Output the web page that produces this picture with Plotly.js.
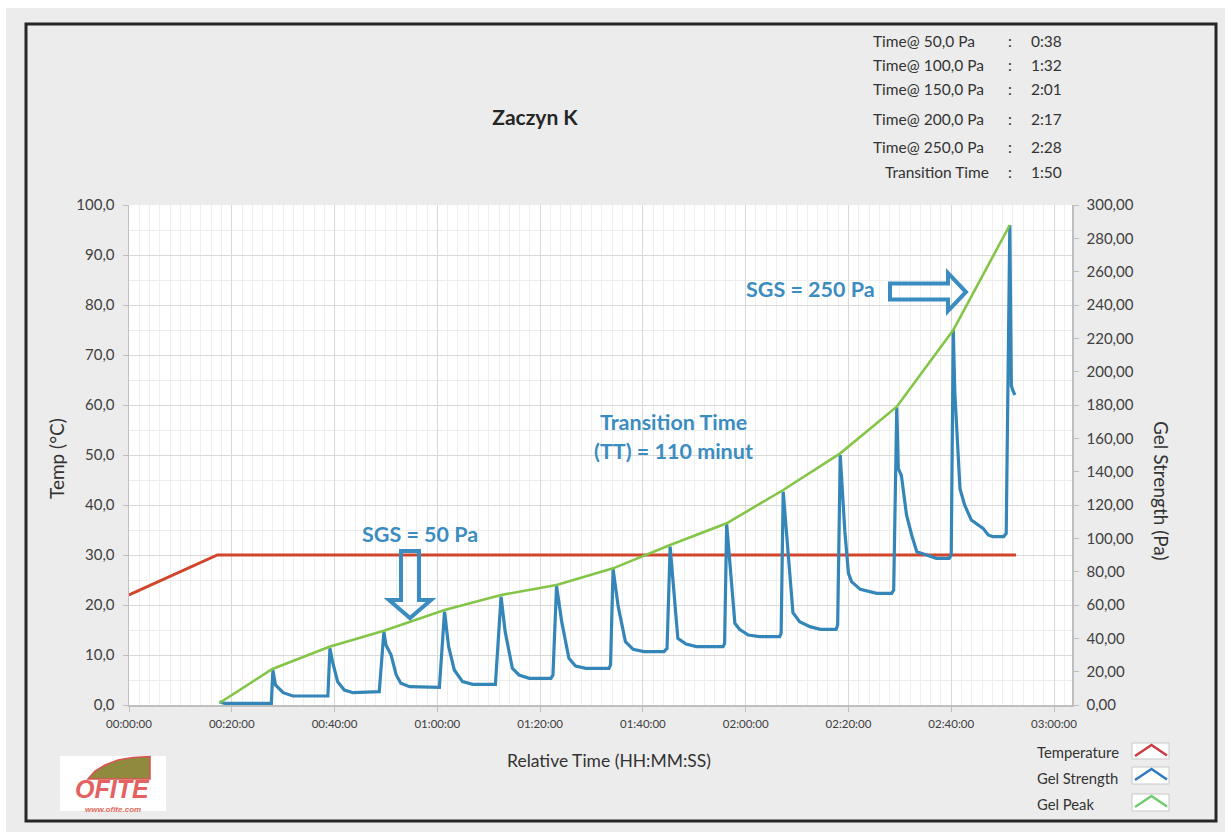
<!DOCTYPE html>
<html>
<head>
<meta charset="utf-8">
<script src="https://cdn.plot.ly/plotly-3.0.1.min.js"></script>
<style>
html,body{margin:0;padding:0;background:#ffffff;}
#chart{width:1225px;height:832px;}
</style>
</head>
<body>
<div id="chart"></div>
<script>
// ---- DATA (minutes since start) ----
const tempTime = [0, 17.2, 172.6];
const tempValue = [22.0, 30.0, 30.0];

const gelTime = [17.6, 18.6, 27.7, 28.0, 28.5, 30.0, 31.9, 38.7, 39.1, 39.6, 40.6, 41.9, 43.6, 48.7,
  49.6, 50.0, 51.0, 52.0, 52.9, 54.6, 60.4, 61.4, 62.2, 63.3, 64.9, 66.9, 71.3,
  72.4, 73.2, 74.6, 75.9, 77.9, 82.1, 82.5, 83.2, 84.2, 85.6, 86.9, 88.9, 93.4, 93.7,
  94.2, 95.2, 96.6, 98.1, 100.2, 104.1, 104.7, 105.3, 106.8, 108.4, 110.4, 115.6, 115.9,
  116.3, 117.9, 118.8, 120.5, 122.7, 126.6, 126.9, 127.3, 129.2, 130.5, 132.5, 134.5, 137.6, 137.9,
  138.4, 139.3, 140.0, 140.6, 142.3, 144.0, 145.5, 148.4, 148.8,
  149.4, 149.7, 150.3, 151.3, 152.3, 153.3, 155.2, 157.1, 159.6, 160.0,
  160.4, 160.7, 161.7, 162.6, 163.9, 165.2, 166.2, 167.2, 168.1, 170.2, 170.7,
  171.4, 171.7, 172.0, 172.4];
const gelStrength = [2, 1, 1, 21, 12, 7.4, 5.4, 5.4, 34, 26, 14, 9, 7.4, 8,
  44, 36, 30, 18, 13, 11, 10.6, 56, 35, 21, 14, 12.4, 12.4,
  65, 44, 22, 18, 16, 16, 18, 71.4, 50, 28, 23.4, 22, 22, 24,
  81.4, 59, 38, 33.4, 32, 32, 34, 95, 40, 36.6, 35, 35, 37,
  108.6, 49, 45.4, 42, 41, 41, 43, 128, 55.4, 50, 47, 45.4, 45.4, 48,
  150, 104, 79, 74, 69.4, 68, 67, 67, 69,
  178.6, 141.8, 137.8, 114, 102, 92, 90, 88, 88, 90,
  225, 187.5, 129.8, 120, 111, 108, 106, 102, 101, 101, 103,
  288, 191.6, 188.6, 186];

const peakTime = [17.6, 27.9, 39.0, 49.6, 61.4, 72.4, 83.2, 94.2, 105.3, 116.3, 127.3, 138.4, 149.4, 160.4, 171.4];
const peakValue = [1.2, 21.6, 35, 44.6, 57, 66, 72, 82, 96, 109, 129, 151, 179, 225, 288];

const xTickVals = [0, 20, 40, 60, 80, 100, 120, 140, 160, 180];
const xTickLabels = ["00:00:00", "00:20:00", "00:40:00", "01:00:00", "01:20:00", "01:40:00", "02:00:00", "02:20:00", "02:40:00", "03:00:00"];

const infoLabels = ["Time@ 50,0 Pa", "Time@ 100,0 Pa", "Time@ 150,0 Pa", "Time@ 200,0 Pa", "Time@ 250,0 Pa", "Transition Time"];
const infoValues = ["0:38", "1:32", "2:01", "2:17", "2:28", "1:50"];

const seriesNames = ["Temperature", "Gel Strength", "Gel Peak"];

// ---- LAYOUT HELPERS (pixel -> paper) ----
const L = 129, R = 1072, T = 205, B = 705;
const fx = p => (p - L) / (R - L);
const fy = p => (B - p) / (B - T);
const pathOf = pts => 'M ' + pts.map(p => fx(p[0]).toFixed(5) + ',' + fy(p[1]).toFixed(5)).join(' L ') + ' Z';
const openPath = pts => 'M ' + pts.map(p => fx(p[0]).toFixed(5) + ',' + fy(p[1]).toFixed(5)).join(' L ');

const FONT = 'Lato, "Open Sans", sans-serif';
const RED = '#d1452b', BLUE = '#3586b8', GREEN = '#84c548', ANN = '#3b8cc0';

const traces = [
  {x: tempTime, y: tempValue, name: seriesNames[0], type: 'scatter', mode: 'lines',
   line: {color: RED, width: 3}, yaxis: 'y', hoverinfo: 'skip'},
  {x: gelTime, y: gelStrength, name: seriesNames[1], type: 'scatter', mode: 'lines',
   line: {color: BLUE, width: 3.2}, yaxis: 'y2', hoverinfo: 'skip'},
  {x: peakTime, y: peakValue, name: seriesNames[2], type: 'scatter', mode: 'lines',
   line: {color: GREEN, width: 2.6}, yaxis: 'y2', hoverinfo: 'skip'}
];

const annotations = [];
const shapes = [];

// white strips outside the frame
shapes.push({type: 'rect', xref: 'paper', yref: 'paper', x0: fx(-5), x1: fx(6), y0: fy(-5), y1: fy(840),
  fillcolor: '#ffffff', line: {width: 0}, layer: 'below'});
shapes.push({type: 'rect', xref: 'paper', yref: 'paper', x0: fx(-5), x1: fx(1230), y0: fy(-5), y1: fy(8),
  fillcolor: '#ffffff', line: {width: 0}, layer: 'below'});
// frame
shapes.push({type: 'rect', xref: 'paper', yref: 'paper', x0: fx(26), x1: fx(1216), y0: fy(24), y1: fy(821),
  fillcolor: 'rgba(0,0,0,0)', line: {color: '#262626', width: 3}, layer: 'above'});

// info table
const infoY = [41, 65, 89, 119, 147, 172];
const infoFont = {family: FONT, size: 15.5, color: '#333333'};
infoLabels.forEach((t, i) => {
  annotations.push({xref: 'paper', yref: 'paper', x: fx(i === 5 ? 883 : 871), y: fy(infoY[i]), xanchor: 'left', yanchor: 'middle',
    text: t, showarrow: false, font: infoFont});
  annotations.push({xref: 'paper', yref: 'paper', x: fx(1010), y: fy(infoY[i]), xanchor: 'center', yanchor: 'middle',
    text: ':', showarrow: false, font: infoFont});
  annotations.push({xref: 'paper', yref: 'paper', x: fx(1064), y: fy(infoY[i]), xanchor: 'right', yanchor: 'middle',
    text: infoValues[i], showarrow: false, font: infoFont});
});

// chart annotations
const annFont = {family: FONT, size: 21.5, color: ANN};
annotations.push({xref: 'paper', yref: 'paper', x: fx(420), y: fy(534), xanchor: 'center', yanchor: 'middle', text: '<b>SGS = 50 Pa</b>', showarrow: false, font: annFont});
annotations.push({xref: 'paper', yref: 'paper', x: fx(673), y: fy(422), xanchor: 'center', yanchor: 'middle', text: '<b>Transition Time</b>', showarrow: false, font: annFont});
annotations.push({xref: 'paper', yref: 'paper', x: fx(673), y: fy(451), xanchor: 'center', yanchor: 'middle', text: '<b>(TT) = 110 minut</b>', showarrow: false, font: annFont});
annotations.push({xref: 'paper', yref: 'paper', x: fx(810), y: fy(289), xanchor: 'center', yanchor: 'middle', text: '<b>SGS = 250 Pa</b>', showarrow: false, font: annFont});

// block arrows
shapes.push({type: 'path', xref: 'paper', yref: 'paper', layer: 'above',
  path: pathOf([[401, 551], [419, 551], [419, 600], [431, 600], [410, 618], [389, 600], [401, 600]]),
  fillcolor: 'rgba(0,0,0,0)', line: {color: ANN, width: 4}});
shapes.push({type: 'path', xref: 'paper', yref: 'paper', layer: 'above',
  path: pathOf([[890, 283.5], [948, 283.5], [948, 273], [966, 292], [948, 311], [948, 299.5], [890, 299.5]]),
  fillcolor: 'rgba(0,0,0,0)', line: {color: ANN, width: 4}});

// axis titles
annotations.push({xref: 'paper', yref: 'paper', x: fx(609), y: fy(760), xanchor: 'center', yanchor: 'middle',
  text: 'Relative Time (HH:MM:SS)', showarrow: false, font: {family: FONT, size: 17.5, color: '#333333'}});
annotations.push({xref: 'paper', yref: 'paper', x: fx(56), y: fy(459), xanchor: 'center', yanchor: 'middle', textangle: -90,
  text: 'Temp (°C)', showarrow: false, font: {family: FONT, size: 19, color: '#333333'}});
annotations.push({xref: 'paper', yref: 'paper', x: fx(1162), y: fy(491), xanchor: 'center', yanchor: 'middle', textangle: 90,
  text: 'Gel Strength (Pa)', showarrow: false, font: {family: FONT, size: 19, color: '#333333'}});

// custom legend
const legY = [752, 778, 804];
const legColors = ['#cc3b40', '#2c79c4', '#6fcd6f'];
const boxes = [[743, 759], [767, 784], [794, 811]];
seriesNames.forEach((n, i) => {
  annotations.push({xref: 'paper', yref: 'paper', x: fx(1035), y: fy(legY[i]), xanchor: 'left', yanchor: 'middle',
    text: n, showarrow: false, font: {family: FONT, size: 14.8, color: '#333333'}});
  shapes.push({type: 'rect', xref: 'paper', yref: 'paper', x0: fx(1132), x1: fx(1169), y0: fy(boxes[i][0]), y1: fy(boxes[i][1]),
    fillcolor: '#ffffff', line: {color: '#c8c8c8', width: 1}, layer: 'above'});
  const by = boxes[i][0];
  shapes.push({type: 'path', xref: 'paper', yref: 'paper', layer: 'above',
    path: openPath([[1135, by + 13], [1151.5, by + 2], [1167, by + 12.5]]),
    line: {color: legColors[i], width: 2.5}});
});

// logo
shapes.push({type: 'rect', xref: 'paper', yref: 'paper', x0: fx(60), x1: fx(166), y0: fy(756), y1: fy(811),
  fillcolor: '#ffffff', line: {width: 0}, layer: 'above'});
shapes.push({type: 'path', xref: 'paper', yref: 'paper', layer: 'above',
  path: pathOf([[88, 779], [95, 771], [105, 765], [118, 760], [133, 757.5], [150, 756.5], [150, 779]]),
  fillcolor: '#8f8a3e', line: {color: '#d9534f', width: 1.5}});
annotations.push({xref: 'paper', yref: 'paper', x: fx(112), y: fy(789), xanchor: 'center', yanchor: 'middle',
  text: '<b><i>OFITE</i></b>', showarrow: false, font: {family: '"Liberation Sans", Arial, sans-serif', size: 25, color: '#e3615f'}});
annotations.push({xref: 'paper', yref: 'paper', x: fx(113), y: fy(809), xanchor: 'center', yanchor: 'middle',
  text: '<b><i>www.ofite.com</i></b>', showarrow: false, font: {family: '"Liberation Sans", Arial, sans-serif', size: 8, color: '#e06a5a'}});

const layout = {
  width: 1225, height: 832,
  margin: {l: L, r: 1225 - R, t: T, b: 832 - B, pad: 0},
  paper_bgcolor: '#ececec',
  plot_bgcolor: '#ffffff',
  separators: ', ',
  showlegend: false,
  title: {text: '<b>Zaczyn K</b>', x: 535 / 1225, xanchor: 'center', y: 1 - 118 / 832, yanchor: 'middle',
    font: {family: FONT, size: 21, color: '#262626'}},
  xaxis: {
    range: [0, 183.5], tickmode: 'array', tickvals: xTickVals, ticktext: xTickLabels,
    showgrid: true, gridcolor: '#d9d9d9', gridwidth: 1,
    minor: {dtick: 2, tick0: 0, showgrid: true, gridcolor: '#efefef', gridwidth: 1},
    showline: true, linecolor: '#bfbfbf', linewidth: 1.5, zeroline: false,
    ticks: 'outside', ticklen: 5, tickcolor: '#bfbfbf', ticklabelstandoff: 3,
    tickfont: {family: FONT, size: 11.5, color: '#404040'}, fixedrange: true
  },
  yaxis: {
    range: [0, 100], dtick: 10, tick0: 0, tickformat: '.1f',
    showgrid: true, gridcolor: '#d9d9d9', gridwidth: 1,
    minor: {dtick: 5, tick0: 0, showgrid: true, gridcolor: '#ededed', gridwidth: 1},
    showline: true, linecolor: '#bfbfbf', linewidth: 1.5, zeroline: false,
    ticks: 'outside', ticklen: 5, tickcolor: '#bfbfbf', ticklabelstandoff: 5,
    tickfont: {family: FONT, size: 15, color: '#404040'}, fixedrange: true
  },
  yaxis2: {
    range: [0, 300], dtick: 20, tick0: 0, tickformat: '.2f',
    overlaying: 'y', side: 'right', showgrid: false, zeroline: false,
    showline: true, linecolor: '#bfbfbf', linewidth: 1.5,
    ticks: 'outside', ticklen: 5, tickcolor: '#bfbfbf', ticklabelstandoff: 5,
    tickfont: {family: FONT, size: 15, color: '#404040'}, fixedrange: true
  },
  annotations: annotations,
  shapes: shapes
};

Plotly.newPlot('chart', traces, layout, {displayModeBar: false, staticPlot: true});
</script>
</body>
</html>
